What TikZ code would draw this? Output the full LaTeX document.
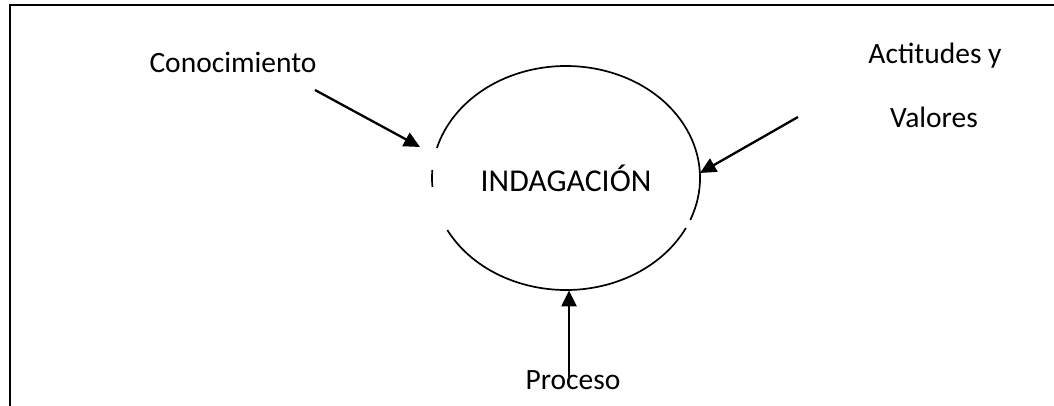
\documentclass[tikz,border=0pt]{standalone}
\usepackage{fontspec}
\setmainfont{Carlito}
\usetikzlibrary{arrows.meta,shapes.geometric}
\begin{document}
\begin{tikzpicture}[x=0.5pt,y=0.5pt,
  lbl/.style={font=\fontsize{14.75}{17}\selectfont, inner sep=0pt},
  biglbl/.style={font=\fontsize{15.9}{18}\selectfont, inner sep=0pt},
  conn/.style={line width=1.15pt, -{Triangle[length=8pt,width=7.5pt]}},
  frame/.style={line width=1pt},
  ring/.style={line width=0.85pt}]
\useasboundingbox (0,0) rectangle (1054,406);
\draw[frame] (1054,401) -- (10,401) -- (10,0);
% central ellipse (drawn as arcs, with the gaps of the original)
\node[ellipse, minimum width=134pt, minimum height=112pt, biglbl] (ind) at (566,228) {INDAGACIÓN\hspace{6pt}};
\draw[ring] ([shift={(207.7:67pt and 56pt)}]ind.center) arc[start angle=207.7, end angle=333.5, x radius=67pt, y radius=56pt];
\draw[ring] ([shift={(338:67pt and 56pt)}]ind.center) arc[start angle=338, end angle=524.5, x radius=67pt, y radius=56pt];
\draw[ring] ([shift={(175.9:67pt and 56pt)}]ind.center) arc[start angle=175.9, end angle=184.6, x radius=67pt, y radius=56pt];
% labels
\node[lbl, anchor=base] (con) at (233,333) {Conocimiento};
\node[lbl, anchor=base] (act) at (935,342) {Actitudes y};
\node[lbl, anchor=base] (val) at (934,278) {Valores};
\node[lbl, anchor=base] (pro) at (573,16) {Proceso};
% arrow ends
\coordinate (conS) at (315,316);
\coordinate (conT) at (420,259);
\coordinate (actS) at (798,289);
\coordinate (actT) at (700,233);
\coordinate (proS) at (569,29);
\draw[conn] (conS) -- (conT);
\draw[conn] (actS) -- (actT);
\draw[conn] (proS) -- (proS |- ind.south);
\end{tikzpicture}
\end{document}
